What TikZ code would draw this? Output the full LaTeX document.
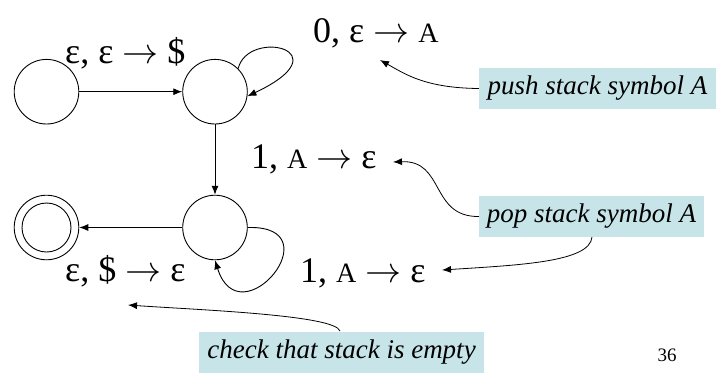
\RequirePackage{fix-cm}
\documentclass[tikz,border=0pt]{standalone}
\usepackage{fontspec}
\setmainfont{Liberation Serif}
\usetikzlibrary{arrows.meta}
\definecolor{notefill}{RGB}{199,229,233}
% smaller capital used for stack symbols
\newcommand{\stacksym}[1]{{\fontsize{28}{30}\selectfont #1}}
\begin{document}
\begin{tikzpicture}[x=1pt,y=-1pt,
  state/.style={draw,circle,minimum size=64.6pt,inner sep=0pt,line width=0.9pt},
  edge/.style={-{Latex[length=9pt,width=7pt]},line width=0.9pt},
  lbl/.style={font=\fontsize{36}{40}\selectfont,inner sep=0pt,anchor=base west},
  note/.style={fill=notefill,font=\fontsize{27}{30}\selectfont\itshape,inner sep=0pt,minimum height=41pt},
  pointer/.style={-{Latex[length=9pt,width=7pt]},line width=0.8pt}]
\useasboundingbox (0,0) rectangle (720,381);

% states
\node[state] (q1) at (46.5,91.7) {};
\node[state] (q2) at (215,91.7) {};
\node[state] (q3) at (215,227.5) {};
\node[state] (q4) at (46.5,227.5) {};
\node[draw,circle,minimum size=49pt,inner sep=0pt,line width=0.9pt] (q4in) at (46.5,227.5) {};

% transitions
\draw[edge] (q1) -- (q2);
\draw[edge] (q2) -- (q3);
\draw[edge] (q3) -- (q4);
\draw[edge] (q2.45) .. controls (248,28) and (345,50) .. (q2.-8);
\draw[edge] (q3.0) .. controls (335,225) and (240,340) .. (q3.-90);

% transition labels
\node[lbl] (l12) at (65,63) {ε, ε $\rightarrow$ \$};
\node[lbl] (l22) at (313,42) {0, ε $\rightarrow$ \stacksym{A}};
\node[lbl] (l23) at (251,168) {1, \stacksym{A} $\rightarrow$ ε};
\node[lbl] (l34) at (65,281) {ε, \$ $\rightarrow$ ε};
\node[lbl] (l33) at (300,282) {1, \stacksym{A} $\rightarrow$ ε};

% notes
\node[note,minimum width=237pt] (push) at (597.5,88.5) {push stack symbol A};
\node[note,minimum width=225pt] (pop) at (591.5,216.5) {pop stack symbol A};
\node[note,minimum width=285pt] (chk) at (341.5,352.5) {check that stack is empty};
\node[font=\fontsize{19}{22}\selectfont,inner sep=0pt] (pg) at (667,355) {36};

% pointers from notes
\coordinate (tpush) at (380,60);
\coordinate (tpopa) at (393,162);
\coordinate (tpopb) at (442,270);
\coordinate (tchk) at (128,305);
\draw[pointer] (push.west) .. controls (425,88) and (405,74) .. (tpush);
\draw[pointer] (pop.west) .. controls (430,217) and (445,160) .. (tpopa);
\draw[pointer] (592,237) .. controls (590,262) and (520,265) .. (tpopb);
\draw[pointer] (340,331) .. controls (335,315) and (200,310) .. (tchk);
\end{tikzpicture}
\end{document}
